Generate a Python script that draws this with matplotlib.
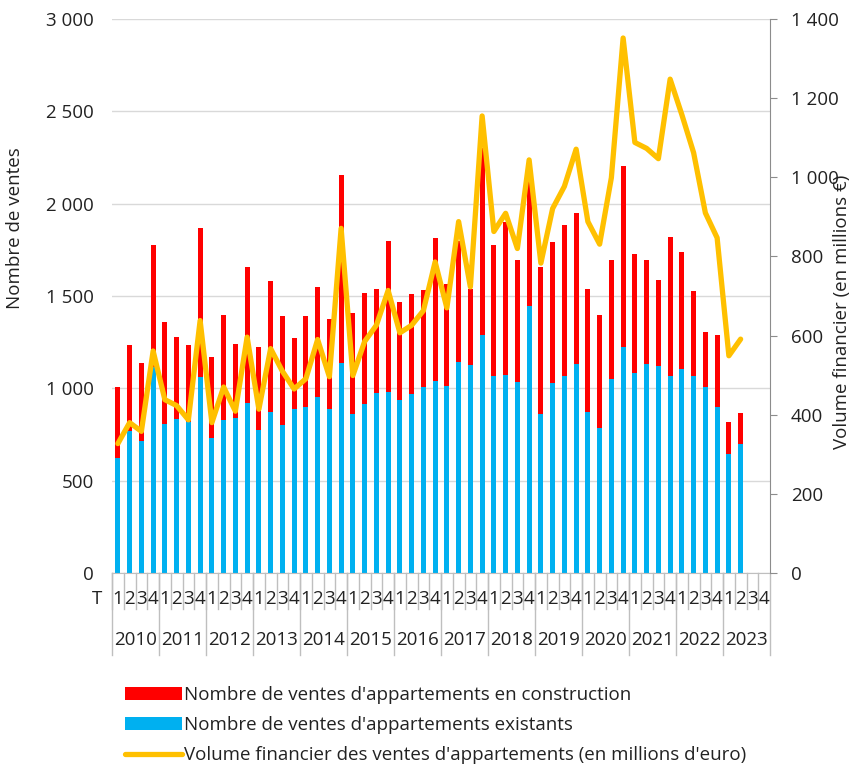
import numpy as np
import matplotlib
matplotlib.use("Agg")
import matplotlib.pyplot as plt
from matplotlib.ticker import FuncFormatter
import matplotlib.transforms as mtransforms

plt.rcParams['font.family'] = ['Open Sans', 'DejaVu Sans']
plt.rcParams['font.size'] = 13.5

years = [str(y) for y in range(2010, 2024)]
quarters = ['1', '2', '3', '4'] * len(years)

# nombre de ventes d'appartements existants (bleu)
existants = [622, 769, 717, 1115, 808, 833, 820, 1061, 731, 829, 841, 918,
             773, 870, 804, 887, 901, 955, 887, 1135, 862, 916, 974, 982,
             936, 970, 1007, 1040, 1011, 1144, 1125, 1289, 1065, 1073, 1036, 1446,
             860, 1030, 1067, 1133, 872, 785, 1048, 1222, 1084, 1133, 1121, 1067,
             1106, 1067, 1009, 899, 646, 696]
# nombre de ventes d'appartements en construction (rouge)
construction = [385, 464, 420, 663, 551, 443, 413, 808, 440, 569, 400, 739,
                449, 709, 586, 387, 491, 595, 489, 1020, 547, 598, 563, 814,
                531, 542, 526, 773, 554, 656, 414, 1011, 711, 829, 659, 704,
                797, 764, 818, 814, 667, 613, 647, 980, 644, 562, 464, 752,
                630, 462, 296, 390, 174, 170]
# volume financier (millions d'euro)
volume = [327, 380, 358, 561, 438, 423, 387, 638, 380, 470, 409, 596,
          414, 567, 510, 465, 491, 590, 496, 871, 499, 585, 626, 714,
          607, 626, 663, 786, 670, 888, 723, 1155, 863, 909, 820, 1044,
          783, 921, 977, 1071, 888, 831, 999, 1352, 1088, 1073, 1047, 1248,
          1158, 1062, 910, 847, 549, 591]

W, H = 855, 766
fig = plt.figure(figsize=(W / 100, H / 100), dpi=100)
ax = fig.add_axes([112 / W, 1 - 573 / H, (770 - 112) / W, (573 - 19) / H])
ax2 = ax.twinx()

x = np.arange(len(existants))
b1 = ax.bar(x, existants, width=0.44, color='#00B0F0', zorder=2)
b2 = ax.bar(x, construction, width=0.44, bottom=existants, color='#FF0000', zorder=2)
l1, = ax2.plot(x, volume, color='#FFC000', lw=3.8, solid_joinstyle='round',
               solid_capstyle='round', zorder=3)

ax.set_xlim(-0.5, len(quarters) - 0.5)
ax.set_ylim(0, 3000)
ax.set_yticks(range(0, 3001, 500))
ax2.set_ylim(0, 1400)
ax2.set_yticks(range(0, 1401, 200))

fmt = FuncFormatter(lambda v, p: '{:,.0f}'.format(v).replace(',', ' '))
ax.yaxis.set_major_formatter(fmt)
ax2.yaxis.set_major_formatter(fmt)

ax.grid(axis='y', color='#d9d9d9', lw=1, zorder=0)
ax.set_axisbelow(True)
for s in ['top', 'left', 'right']:
    ax.spines[s].set_visible(False)
ax.spines['bottom'].set_color('#bfbfbf')
for s in ['top', 'left', 'bottom']:
    ax2.spines[s].set_visible(False)
ax2.spines['right'].set_color('#8c8c8c')

ax.tick_params(axis='y', length=0, pad=13, labelcolor='#222222')
ax.tick_params(axis='x', length=0, labelbottom=False)
ax2.tick_params(axis='y', length=5, color='#8c8c8c', pad=10, labelcolor='#222222')

# axe des categories (trimestres / annees)
tr = mtransforms.blended_transform_factory(ax.transData, ax.transAxes)
for i, q in enumerate(quarters):
    ax.text(i, -0.047, q, transform=tr, ha='center', va='center', color='#222222')
    ax.plot([i - 0.5, i - 0.5], [0, -0.065], transform=tr, color='#bfbfbf',
            lw=1, clip_on=False)
for j, y in enumerate(years):
    ax.text(4 * j + 1.5, -0.121, y, transform=tr, ha='center', va='center', color='#222222')
    ax.plot([4 * j - 0.5, 4 * j - 0.5], [0, -0.148], transform=tr, color='#bfbfbf',
            lw=1, clip_on=False)
ax.plot([len(quarters) - 0.5] * 2, [0, -0.148], transform=tr, color='#bfbfbf',
        lw=1, clip_on=False)
ax.text(-1.75, -0.047, 'T', transform=tr, ha='center', va='center', color='#222222')

fig.text(15 / W, 1 - 228 / H, 'Nombre de ventes', rotation=90, ha='center',
         va='center', color='#222222')
fig.text(842 / W, 1 - 312 / H, 'Volume financier (en millions €)', rotation=90,
         ha='center', va='center', color='#222222')

fig.legend([b2, b1, l1],
           ["Nombre de ventes d'appartements en construction",
            "Nombre de ventes d'appartements existants",
            "Volume financier des ventes d'appartements (en millions d'euro)"],
           loc='upper left', bbox_to_anchor=(125 / W, 1 - 686 / H), frameon=False,
           handlelength=3.05, handleheight=0.65, handletextpad=0.1,
           labelspacing=0.64, borderpad=0, borderaxespad=0, labelcolor='#222222')

fig.savefig('out.png', dpi=100)
